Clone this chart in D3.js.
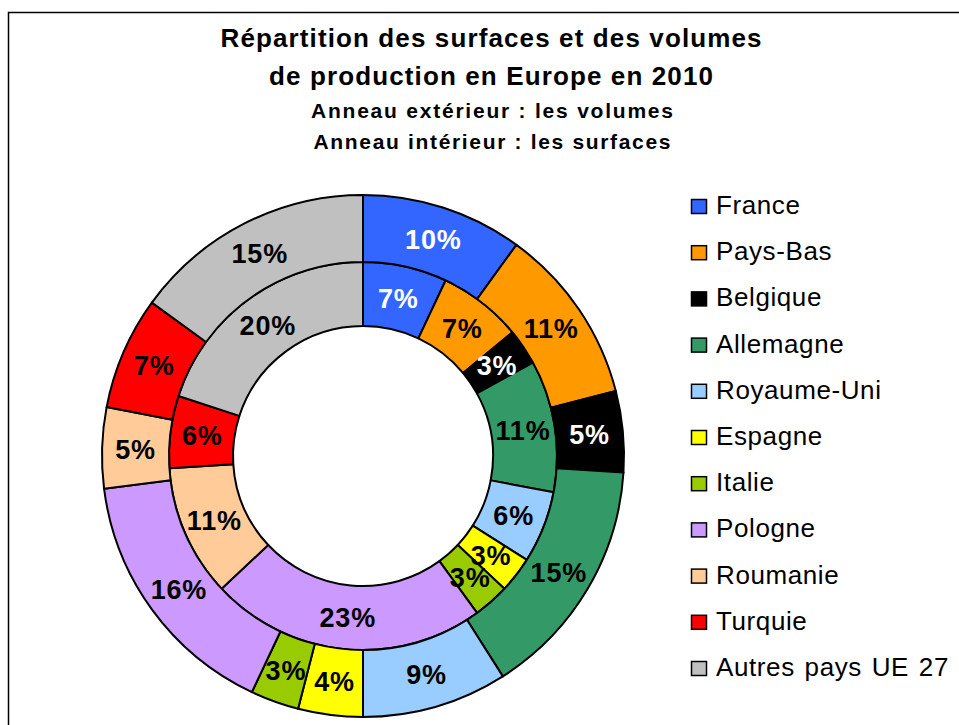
<!DOCTYPE html>
<html>
<head>
<meta charset="utf-8">
<script src="https://cdn.jsdelivr.net/npm/d3@7"></script>
<style>
	body { margin: 0; background: #fff; }
	text { font-family: "Liberation Sans", Arial, sans-serif; }
</style>
</head>
<body>
<div id="main"></div>
<script>

const countries = ["France", "Pays-Bas", "Belgique", "Allemagne", "Royaume-Uni", "Espagne",
	"Italie", "Pologne", "Roumanie", "Turquie", "Autres pays UE 27"]
const colors = ["#3366FF", "#FF9900", "#000000", "#339966", "#99CCFF", "#FFFF00",
	"#99CC00", "#CC99FF", "#FFCC99", "#FF0000", "#C0C0C0"]
// outer ring : volumes, inner ring : surfaces (%)
const volumes = [10, 11, 5, 15, 9, 4, 3, 16, 5, 7, 15]
const surfaces = [7, 7, 3, 11, 6, 3, 3, 23, 11, 6, 20]
const whiteLabels = ["France", "Belgique"]
const titleLines = ["Répartition des surfaces et des volumes", "de production en Europe en 2010"]
const subtitleLines = ["Anneau extérieur : les volumes", "Anneau intérieur : les surfaces"]

let width = 959
let height = 725
let cx = 363, cy = 456

let color = d3.scaleOrdinal()
	.domain(countries)
	.range(colors)

let svg = d3.select("#main")
	.append("svg")
		.attr("width", width)
		.attr("height", height)

// chart frame
svg.append("rect")
	.attr("x", 8.5)
	.attr("y", 12.5)
	.attr("width", width)
	.attr("height", height)
	.style("fill", "none")
	.style("stroke", "black")
	.style("stroke-width", 1.5)

// titles (widths stretched like the excel rendering)
const titleWidths = [541, 444]
const subtitleWidths = [362, 357]

svg.selectAll(".title")
	.data(titleLines)
	.enter()
	.append("text")
		.attr("class", "title")
		.attr("x", 491)
		.attr("y", (d, i) => 47 + i * 38)
		.attr("text-anchor", "middle")
		.attr("textLength", (d, i) => titleWidths[i])
		.attr("lengthAdjust", "spacing")
		.style("font-size", "26px")
		.style("font-weight", "bold")
		.text(d => d)

svg.selectAll(".subtitle")
	.data(subtitleLines)
	.enter()
	.append("text")
		.attr("class", "subtitle")
		.attr("x", 492)
		.attr("y", (d, i) => 118 + i * 31)
		.attr("text-anchor", "middle")
		.attr("textLength", (d, i) => subtitleWidths[i])
		.attr("lengthAdjust", "spacing")
		.style("font-size", "21px")
		.style("font-weight", "bold")
		.text(d => d)

const pie = d3.pie()
	.sort(null)
	.value(d => d.value)

const rings = [
	{values: surfaces, inner: 130, outer: 194},
	{values: volumes, inner: 194, outer: 261}
]

let chart = svg.append("g")
	.attr("transform", `translate(${cx},${cy})`)

rings.forEach(ring => {
	let data = pie(countries.map((c, i) => ({country: c, value: ring.values[i]})))
	let arc = d3.arc()
		.innerRadius(ring.inner)
		.outerRadius(ring.outer)

	let g = chart.append("g")

	g.selectAll("path")
		.data(data)
		.enter()
		.append("path")
			.attr("d", arc)
			.style("fill", d => color(d.data.country))
			.style("stroke", "black")
			.style("stroke-width", 2)
			.style("stroke-linejoin", "round")

	g.selectAll("text")
		.data(data)
		.enter()
		.append("text")
			.attr("transform", d => `translate(${arc.centroid(d)})`)
			.attr("text-anchor", "middle")
			.attr("dy", "0.36em")
			.style("font-size", "27px")
			.style("font-weight", "bold")
			.style("letter-spacing", "0.8px")
			.style("fill", d => whiteLabels.includes(d.data.country) ? "white" : "black")
			.text(d => d.data.value + "%")
})

// legend
let legend = svg.append("g")
	.selectAll("g")
	.data(countries)
	.enter()
	.append("g")
		.attr("transform", (d, i) => `translate(691, ${213 + i * 46.2})`)

legend.append("rect")
	.attr("x", 0.5)
	.attr("y", -13.5)
	.attr("width", 15)
	.attr("height", 14)
	.style("fill", d => color(d))
	.style("stroke", "black")
	.style("stroke-width", 1.5)

legend.append("text")
	.attr("x", 25)
	.attr("y", 1)
	.style("font-size", "26px")
	.style("letter-spacing", "0.6px")
	.style("word-spacing", "2px")
	.text(d => d)

</script>
</body>
</html>
